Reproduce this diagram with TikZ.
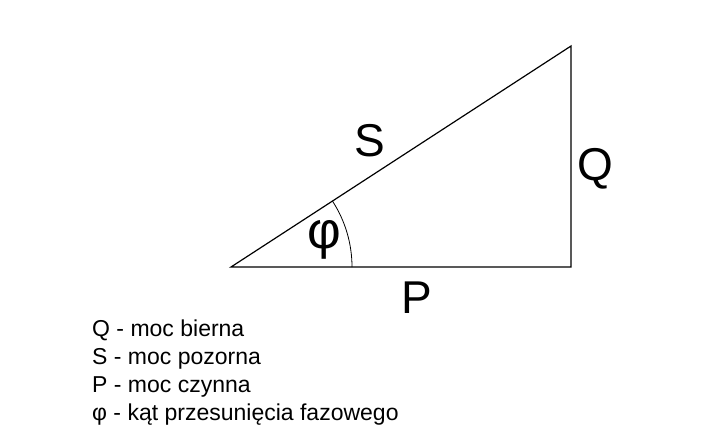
\documentclass[tikz,border=0pt]{standalone}
\usepackage{fontspec}
\setmainfont{Liberation Sans}
\begin{document}
\begin{tikzpicture}[x=1pt,y=-1pt,
  edge/.style={draw=black,line width=1.2pt},
  big/.style={font=\fontsize{46}{48}\selectfont,inner sep=0pt},
  legend/.style={font=\fontsize{23}{26}\selectfont,anchor=base west,inner sep=0pt}]
\useasboundingbox[fill=white] (0,0) rectangle (727,447);
\coordinate (A) at (231,267);
\coordinate (B) at (571,267);
\coordinate (C) at (571,46);
\draw[edge,line join=miter] (A) -- (B) -- (C) -- cycle;
\draw[black,line width=0.8pt] (A) ++(0:121) arc[start angle=0,end angle=-33.0,radius=121];
\node[big] (S) at (370,141) {S};
\node[big] (Q) at (595,169) {Q};
\node[big] (P) at (417,298) {P};
\node[big,font=\fontsize{52}{54}\selectfont] (phi) at (324,240) {φ};
\node[legend] (l1) at (92,336) {Q - moc bierna};
\node[legend] (l2) at (92,364) {S - moc pozorna};
\node[legend] (l3) at (92,392) {P - moc czynna};
\node[legend] (l4) at (92,420) {φ - kąt przesunięcia fazowego};
\end{tikzpicture}
\end{document}
